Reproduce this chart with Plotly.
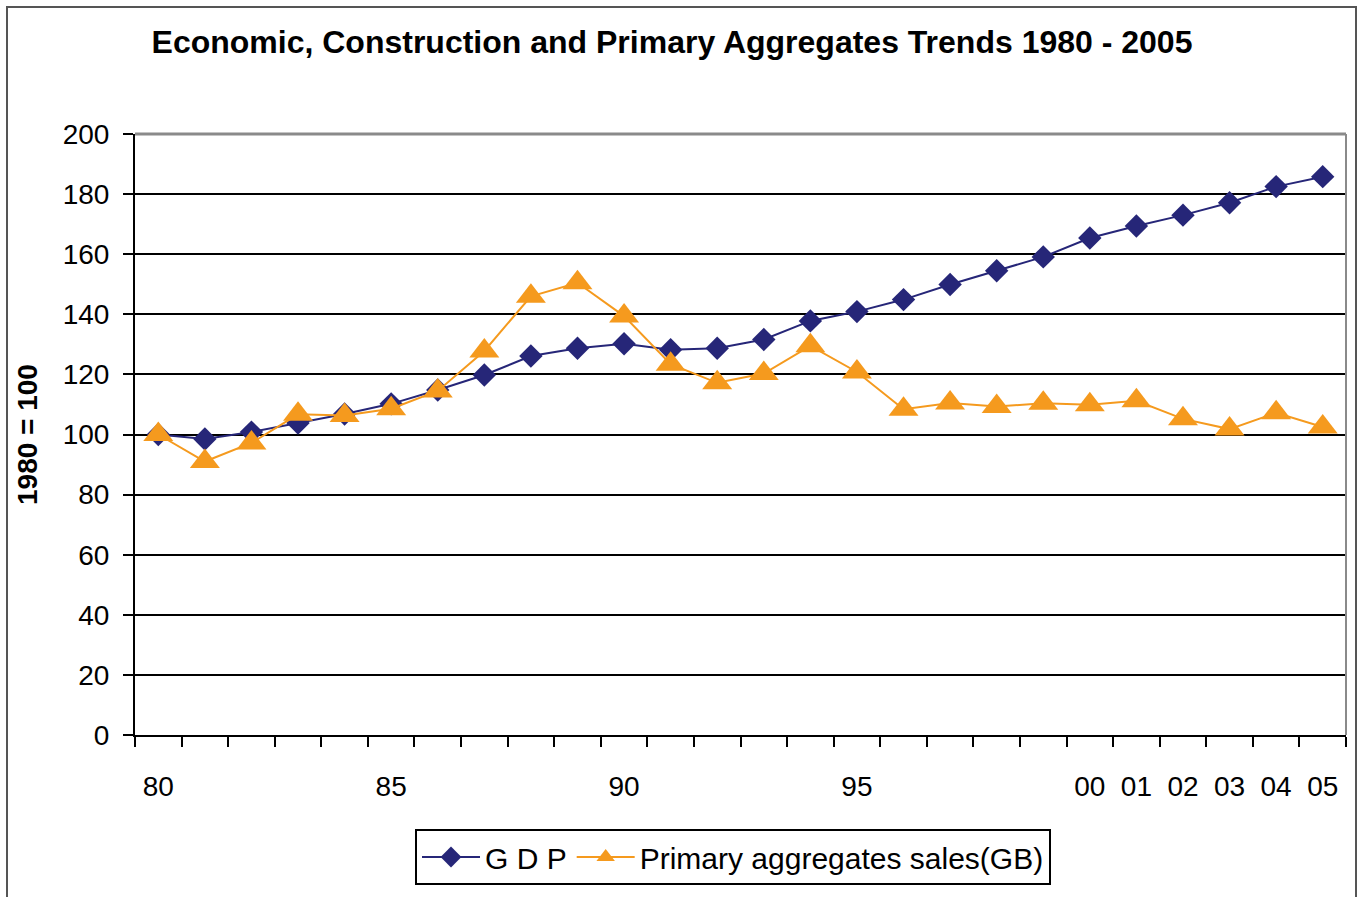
import plotly.graph_objects as go

years = list(range(1980, 2006))
gdp = [100, 98.5, 100.8, 103.8, 106.8, 110.2, 114.8, 119.8, 126.1, 128.7,
       130.2, 128.2, 128.7, 131.6, 137.8, 140.9, 144.9, 149.9, 154.5, 159.1,
       165.4, 169.4, 173.0, 177.1, 182.5, 185.8]
aggregates = [100, 91.0, 97.2, 106.7, 106.3, 108.6, 114.5, 127.8, 146.0, 150.5,
              139.4, 123.4, 117.2, 120.3, 129.5, 120.8, 108.4, 110.5, 109.3, 110.4,
              109.9, 111.2, 105.2, 101.8, 107.2, 102.5]
label_years = [1980, 1985, 1990, 1995, 2000, 2001, 2002, 2003, 2004, 2005]
label_text = ["80", "85", "90", "95", "00", "01", "02", "03", "04", "05"]
y_ticks = [0, 20, 40, 60, 80, 100, 120, 140, 160, 180, 200]

GDP_COLOR = "#262678"
AGG_COLOR = "#F59A1E"
FONT = "Liberation Sans, Arial, sans-serif"

fig = go.Figure()
fig.add_trace(go.Scatter(
    x=years, y=gdp, name="G D P", mode="lines+markers",
    line=dict(color=GDP_COLOR, width=2),
    marker=dict(symbol="diamond", size=18, color=GDP_COLOR),
))
fig.add_trace(go.Scatter(
    x=years, y=aggregates, name="Primary aggregates sales(GB)", mode="lines+markers",
    line=dict(color=AGG_COLOR, width=2),
    marker=dict(symbol="triangle-up", size=26, color=AGG_COLOR),
))

L, R, T, B = 135, 19, 134, 162
W, H = 1365, 897
pw, ph = W - L - R, H - T - B

def px_x(px):
    return (px - L) / pw

def px_y(py):
    return (H - B - py) / ph

fig.update_layout(
    width=W, height=H,
    margin=dict(l=L, r=R, t=T, b=B),
    paper_bgcolor="white", plot_bgcolor="white",
    font=dict(family=FONT, color="black", size=28),
    title=dict(text="<b>Economic, Construction and Primary Aggregates Trends 1980 - 2005</b>",
               x=(672) / W, xanchor="center", y=1 - 42 / H, yanchor="middle",
               font=dict(size=32, family=FONT, color="black")),
    showlegend=True,
    legend=dict(orientation="h", x=px_x(415), xanchor="left", y=px_y(829), yanchor="top",
                bordercolor="black", borderwidth=2, bgcolor="white",
                font=dict(size=30, family=FONT), itemwidth=58,
                traceorder="normal"),
    xaxis=dict(
        range=[1979.5, 2005.5], showgrid=False, zeroline=False,
        showline=True, linecolor="black", linewidth=2,
        tickmode="array", tickvals=label_years, ticktext=label_text, ticks="",
        ticklabelstandoff=25,
        minor=dict(tickmode="linear", tick0=1979.5, dtick=1, ticks="outside",
                   ticklen=10, tickwidth=2, tickcolor="black", showgrid=False),
        tickfont=dict(size=28, family=FONT),
    ),
    yaxis=dict(
        range=[0, 200], tickmode="array", tickvals=y_ticks,
        showgrid=True, gridcolor="black", gridwidth=2, zeroline=False,
        showline=True, linecolor="black", linewidth=2,
        ticks="outside", ticklen=10, tickwidth=2, tickcolor="black",
        ticklabelstandoff=8,
        tickfont=dict(size=28, family=FONT),
    ),
)

# y-axis title
fig.add_annotation(text="<b>1980 = 100</b>", textangle=-90, xref="paper", yref="paper",
                   x=px_x(27), y=px_y(435), xanchor="center", yanchor="middle",
                   showarrow=False, font=dict(size=28, family=FONT, color="black"))

# plot-area frame top and right (grey)
fig.add_shape(type="line", xref="paper", yref="paper", x0=0, x1=1, y0=1, y1=1,
              line=dict(color="#8a8a8a", width=3))
fig.add_shape(type="line", xref="paper", yref="paper", x0=1, x1=1, y0=0, y1=1,
              line=dict(color="#8a8a8a", width=2))
# outer chart border
fig.add_shape(type="rect", xref="paper", yref="paper",
              x0=px_x(7), x1=px_x(1356), y0=px_y(7), y1=px_y(920),
              line=dict(color="#555555", width=2), layer="below")

fig.write_html("out.html")
